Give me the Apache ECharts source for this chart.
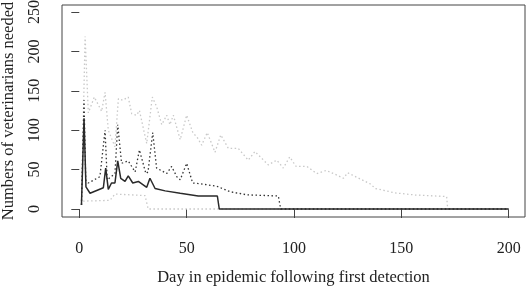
<!DOCTYPE html>
<html>
<head>
<meta charset="utf-8">
<script src="https://cdn.jsdelivr.net/npm/echarts@6/dist/echarts.min.js"></script>
<style>
  html, body { margin: 0; padding: 0; background: #fff; }
  #chart { width: 528px; height: 286px; }
</style>
</head>
<body>
<div id="chart"></div>
<script>
// tick labels
var xTicks = [0, 50, 100, 150, 200];
var yTicks = [0, 50, 100, 150, 200, 250];

// upper bound (light dotted)
var upperDays = [1, 2.7, 4.2, 7, 10.4, 12, 13.5, 16.6, 18.2, 20.2, 22.8, 24.4, 26.7, 28, 31.4, 34, 36, 38.4, 40.7, 42.2, 43.8, 47, 50, 53, 54.7, 57, 59.6, 63.2, 65.9, 69.4, 74, 78.7, 81.8, 88, 92, 95, 98, 101, 106, 110.6, 115, 120, 123, 125, 135.4, 138, 147, 156.4, 171.1, 171.6, 200];
var upperVals = [5, 219, 122, 142, 124, 148, 100, 79, 140, 138, 142, 121, 119, 125, 83, 142, 130, 107, 119, 107, 119, 88, 119, 96, 92, 81, 97, 72, 94, 77, 77, 62, 73, 56, 62, 52, 66, 54, 54, 45, 49, 43, 39, 46, 32, 26, 20.5, 17.8, 15.8, 0, 0];

// upper-middle (dark dotted)
var highDays = [1, 2.2, 3, 4.2, 9.6, 12, 13, 16.6, 17.9, 19.7, 22.8, 26, 28, 31, 32, 34.2, 36, 40.7, 43, 45.4, 47, 50, 52.8, 56.2, 64, 70.2, 78, 92.7, 93.8, 200];
var highVals = [5, 138, 37, 33, 41, 100, 37, 45, 107, 58, 61, 47, 75, 45, 47, 97, 52, 45, 54, 41, 37, 58, 33, 32, 29, 22, 18, 16.5, 0, 0];

// median (solid)
var medDays = [1, 2.2, 3.1, 5, 11.2, 12.3, 13.5, 15, 16.6, 17.9, 19.3, 21.3, 22.8, 24.9, 27.5, 31.4, 32.9, 35.3, 40, 47, 55.4, 64.3, 65.2, 200];
var medVals = [5, 115, 28, 20, 27, 52, 25, 33, 33, 61, 39, 35, 42, 33, 35, 27.5, 39, 26, 23, 20, 16.5, 16.5, 0, 0];

// lower bound (light dotted)
var lowDays = [1, 2, 14.3, 16.6, 30.6, 32.1, 200];
var lowVals = [5, 10, 11, 19, 17, 0, 0];

function pairs(days, vals) {
  return days.map(function (d, i) { return [d, vals[i]]; });
}

var font = "'Liberation Serif', 'DejaVu Serif', serif";
var chart = echarts.init(document.getElementById('chart'));

function line(name, days, vals, color, type, width) {
  return {
    name: name,
    type: 'line',
    data: pairs(days, vals),
    showSymbol: false,
    animation: false,
    lineStyle: { color: color, width: width, type: type }
  };
}

chart.setOption({
  animation: false,
  grid: {
    left: 62, right: 3, top: 5, bottom: 69,
    outerBoundsMode: 'none',
    containLabel: false,
    show: true, borderColor: '#444', borderWidth: 1, backgroundColor: 'transparent'
  },
  xAxis: {
    type: 'value',
    min: -8.06, max: 207.6,
    name: 'Day in epidemic following first detection',
    nameLocation: 'middle',
    nameGap: 52,
    nameTextStyle: { fontFamily: font, fontSize: 16.5, color: '#222' },
    axisLine: { show: false },
    splitLine: { show: false },
    axisTick: { show: true, inside: false, length: 9, customValues: xTicks, lineStyle: { color: '#444' } },
    axisLabel: { customValues: xTicks, margin: 24, fontFamily: font, fontSize: 16, color: '#222' }
  },
  yAxis: {
    type: 'value',
    min: -10.15, max: 258.9,
    name: 'Numbers of veterinarians needed',
    nameLocation: 'middle',
    nameGap: 45,
    nameTextStyle: { fontFamily: font, fontSize: 16.5, color: '#222' },
    axisLine: { show: false },
    splitLine: { show: false },
    axisTick: { show: true, inside: false, length: 8, customValues: yTicks, lineStyle: { color: '#444' } },
    axisLabel: { customValues: yTicks, rotate: 90, margin: 19, fontFamily: font, fontSize: 16, color: '#222' }
  },
  series: [
    line('upper', upperDays, upperVals, '#c8c8c8', [1.5, 2.5], 1.3),
    line('lower', lowDays, lowVals, '#c8c8c8', [1.5, 2.5], 1.3),
    line('high', highDays, highVals, '#333', [1.5, 2.5], 1.3),
    line('median', medDays, medVals, '#2a2a2a', 'solid', 1.5)
  ]
});
</script>
</body>
</html>
